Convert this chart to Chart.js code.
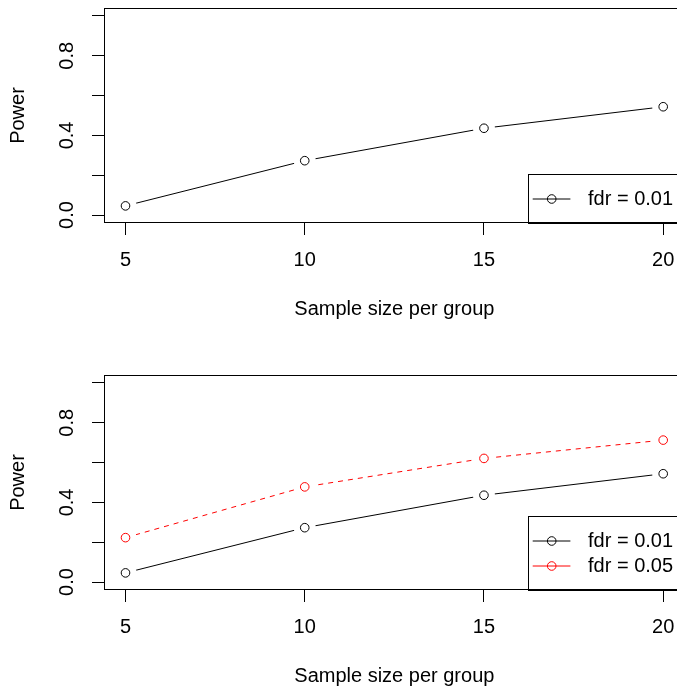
<!DOCTYPE html>
<html><head><meta charset="utf-8">
<script src="https://cdn.jsdelivr.net/npm/chart.js@4.4.1/dist/chart.umd.min.js"></script>
<style>
html,body{margin:0;padding:0;background:#fff;overflow:hidden;width:677px;height:689px;}
canvas{position:absolute;left:0;}
#c1{top:0}
#c2{top:367px}
</style></head><body>
<canvas id="c1" width="690" height="345"></canvas>
<canvas id="c2" width="690" height="345"></canvas>
<script>
// ---- data ----
const sampleSizes = [5, 10, 15, 20];
const powerFdr001 = [0.046, 0.273, 0.436, 0.544];
const powerFdr005 = [0.223, 0.478, 0.621, 0.713];
const seriesLabels = ['fdr = 0.01', 'fdr = 0.05'];
const xTicks = [5, 10, 15, 20];
const yTicks = [0, 0.2, 0.4, 0.6, 0.8, 1.0];
const yTickLabels = ['0.0', '', '0.4', '', '0.8', ''];
const xTitle = 'Sample size per group';
const yTitle = 'Power';

const FONT = {family: "'Liberation Sans', Arial, Helvetica, sans-serif", size: 20};

const boxFrame = {
  id: 'boxFrame',
  afterDraw(chart) {
    const {ctx, chartArea: a} = chart;
    ctx.save();
    ctx.strokeStyle = '#000'; ctx.lineWidth = 1;
    ctx.strokeRect(a.left + 0.5, a.top + 0.5, a.right - a.left - 1, a.bottom - a.top - 1);
    ctx.restore();
  }
};

// R "type = b": line segments stop short of each point symbol
const gapPoints = {
  id: 'gapPoints',
  afterDatasetDraw(chart, args) {
    const {ctx} = chart;
    const pts = args.meta.data;
    ctx.save();
    ctx.fillStyle = '#fff';
    pts.forEach(p => { ctx.beginPath(); ctx.arc(p.x, p.y, 11, 0, Math.PI * 2); ctx.fill(); });
    ctx.restore();
    pts.forEach(p => p.draw(ctx, chart.chartArea));
  }
};

const rLegend = {
  id: 'rLegend',
  afterDatasetsDraw(chart) {
    const {ctx, chartArea: a} = chart;
    const ds = chart.data.datasets;
    const n = ds.length;
    const left = Math.round(a.right - 157);
    const bottom = Math.round(a.bottom);
    const top = Math.round(bottom - 49 - 25 * (n - 1));
    ctx.save();
    ctx.fillStyle = '#fff';
    ctx.fillRect(left, top, a.right - left, bottom - top);
    ctx.strokeStyle = '#000'; ctx.lineWidth = 1;
    ctx.strokeRect(left + 0.5, top + 0.5, a.right - left, bottom - top);
    ds.forEach((d, i) => {
      const cy = top + 25 + 25 * i;
      ctx.strokeStyle = d.borderColor;
      ctx.lineWidth = 1;
      ctx.setLineDash([]);
      ctx.beginPath(); ctx.moveTo(left + 4.7, cy); ctx.lineTo(left + 42.4, cy); ctx.stroke();
      ctx.beginPath(); ctx.arc(left + 23.7, cy, 4.3, 0, Math.PI * 2); ctx.stroke();
      ctx.fillStyle = '#000';
      ctx.font = FONT.size + 'px ' + FONT.family;
      ctx.textAlign = 'left'; ctx.textBaseline = 'middle';
      ctx.fillText(d.label, left + 60, cy);
    });
    ctx.restore();
  }
};

const gridCfg = {drawOnChartArea: false, drawTicks: true, tickLength: 12, color: '#000', lineWidth: 1};

function zeroPad(s) { s.paddingTop = 0; s.paddingBottom = 0; s.paddingLeft = 0; s.paddingRight = 0; }

function makeChart(id, datasets) {
  return new Chart(document.getElementById(id), {
    type: 'line',
    data: {datasets},
    options: {
      responsive: false,
      devicePixelRatio: 1,
      animation: false,
      events: [],
      layout: {padding: {top: 8, right: 4, left: 0, bottom: 0}},
      plugins: {legend: {display: false}, tooltip: {enabled: false}, title: {display: false}},
      scales: {
        x: {
          type: 'linear', min: 4.4, max: 20.6,
          afterBuildTicks: s => { s.ticks = xTicks.map(v => ({value: v})); },
          afterFit: s => { s.height = 122; zeroPad(s); },
          ticks: {autoSkip: false, maxRotation: 0, minRotation: 0, padding: 13.7, color: '#000', font: FONT,
                  callback: v => String(v)},
          grid: gridCfg,
          border: {display: false},
          title: {display: true, text: xTitle, color: '#000', font: FONT, padding: {top: 0, bottom: 23.6}}
        },
        y: {
          type: 'linear', min: -0.04, max: 1.04,
          afterBuildTicks: s => { s.ticks = yTicks.map(v => ({value: v})); },
          afterFit: s => { s.width = 104; zeroPad(s); },
          ticks: {autoSkip: false, minRotation: 90, maxRotation: 90, crossAlign: 'center', padding: 10.7,
                  color: '#000', font: FONT,
                  callback: v => { const i = yTicks.findIndex(t => Math.abs(t - v) < 1e-9); return i >= 0 ? yTickLabels[i] : ''; }},
          grid: gridCfg,
          border: {display: false},
          title: {display: true, text: yTitle, color: '#000', font: FONT, padding: {top: 6.1, bottom: 0}}
        }
      }
    },
    plugins: [gapPoints, rLegend, boxFrame]
  });
}

function series(label, values, color, dash) {
  return {
    label,
    data: sampleSizes.map((x, i) => ({x, y: values[i]})),
    borderColor: color,
    backgroundColor: color,
    borderWidth: 1,
    borderDash: dash,
    pointStyle: 'circle',
    pointRadius: 4.3,
    pointBorderWidth: 1,
    pointBorderColor: color,
    pointBackgroundColor: 'rgba(0,0,0,0)',
    tension: 0,
    fill: false
  };
}

makeChart('c1', [series(seriesLabels[0], powerFdr001, '#000000', [])]);
makeChart('c2', [
  series(seriesLabels[0], powerFdr001, '#000000', []),
  series(seriesLabels[1], powerFdr005, '#ff0000', [5, 5])
]);
</script>
</body></html>
